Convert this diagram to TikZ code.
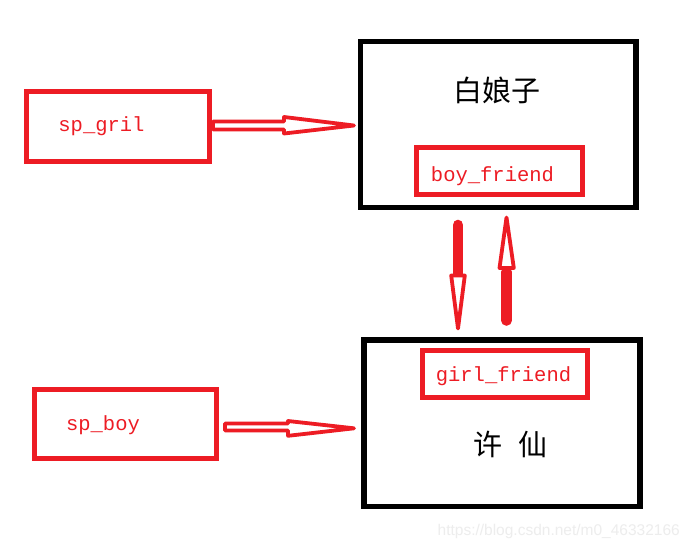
\documentclass[tikz,border=0pt]{standalone}
\usepackage{fontspec}
\newfontfamily\monof{Liberation Mono}
\newfontfamily\cjk{Noto Sans CJK SC}
\newfontfamily\wmfont{Liberation Sans}
\definecolor{pred}{HTML}{ED1C24}
\tikzset{
  redbox/.style={draw=pred, line width=5pt, inner sep=0pt, outer sep=0pt},
  blackbox/.style={draw=black, line width=5.5pt, inner sep=0pt, outer sep=0pt},
  codetext/.style={text=pred, font=\monof\fontsize{20.5}{24}\selectfont, anchor=base, inner sep=0pt},
  cjktext/.style={text=black, font=\cjk\fontsize{29}{34}\selectfont, anchor=base, inner sep=0pt},
  hollowarrow/.style={draw=pred, line width=3.8pt, line join=round, fill=white},
  solidshaft/.style={draw=pred, line width=10.6pt, line cap=round},
}
\begin{document}
\begin{tikzpicture}[x=1pt, y=-1pt]
\useasboundingbox[fill=white] (0,0) rectangle (692,550);

% boxes
\node[redbox, minimum width=183pt, minimum height=70pt] (grilbox) at (118,126.5) {};
\node[redbox, minimum width=181.6pt, minimum height=69pt] (boybox) at (125.5,423.5) {};
\node[blackbox, minimum width=275.5pt, minimum height=166pt] (bai) at (498.25,124.5) {};
\node[blackbox, minimum width=276pt, minimum height=166.5pt] (xu) at (502,423.25) {};
\node[redbox, minimum width=166pt, minimum height=46.5pt] (bfbox) at (499.5,170.75) {};
\node[redbox, minimum width=165pt, minimum height=47pt] (gfbox) at (505,374) {};

% texts
\node[codetext] (gril) at (101.5,131.7) {sp\_gril};
\node[codetext] (spboy) at (103,430) {sp\_boy};
\node[codetext] (bf) at (492.5,181.7) {boy\_friend};
\node[codetext] (gf) at (503.5,381.7) {girl\_friend};
\node[cjktext] (bainame) at (496.5,101) {白娘子};
\node[cjktext] (xuname) at (510.5,455) {许 \hspace{10pt}仙};

% horizontal hollow arrows
\draw[hollowarrow] (213,121.5) -- (284,121.5) -- (284,117) -- (354,125.5)
  -- (284,133.5) -- (284,129.5) -- (213,129.5) -- cycle;
\draw[hollowarrow] (225,423.5) -- (288,423.5) -- (288,421) -- (354,428.3)
  -- (288,435.8) -- (288,430.5) -- (225,430.5) -- cycle;

% vertical arrows
\draw[solidshaft] (458,225) -- (458,274);
\draw[hollowarrow] (451.2,275.5) -- (464.8,275.5) -- (458,328.5) -- cycle;
\draw[solidshaft] (506.5,320.5) -- (506.5,272);
\draw[hollowarrow] (499.5,268) -- (513.8,268) -- (506.5,217.5) -- cycle;

% watermark
\node[anchor=base east, inner sep=0pt, text=gray!14, font=\wmfont\fontsize{15.5}{18}\selectfont] (wm) at (680,535) {https://blog.csdn.net/m0\_46332166};
\end{tikzpicture}
\end{document}
